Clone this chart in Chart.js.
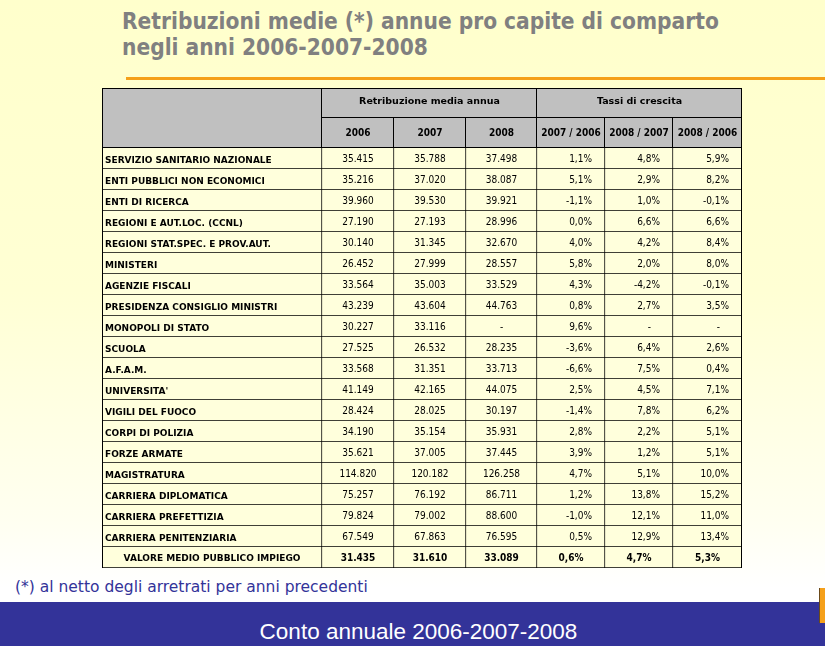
<!DOCTYPE html>
<html>
<head>
<meta charset="utf-8">
<script src="https://cdn.jsdelivr.net/npm/chart.js@4.4.1/dist/chart.umd.min.js"></script>
<style>
html,body{margin:0;padding:0;}
body{width:825px;height:646px;position:relative;overflow:hidden;
  background:linear-gradient(to bottom,#FFFFCC 0%,#FFFFD4 45%,#FFFFF0 80%,#FFFFFF 91%);
  font-family:"DejaVu Sans Condensed","DejaVu Sans",sans-serif;}
#title{position:absolute;left:122px;top:8px;color:#808080;font-weight:bold;font-size:22.5px;line-height:26px;white-space:nowrap;}
#rule{position:absolute;left:126px;top:77px;width:699px;height:3px;background:#F5A01A;}
#note{position:absolute;left:15px;top:578px;color:#333399;font-family:"DejaVu Sans",sans-serif;font-size:15.5px;white-space:nowrap;}
#band{position:absolute;left:0;top:602px;width:825px;height:44px;background:#333399;}
#bandText{position:absolute;left:6px;top:619px;width:825px;text-align:center;color:#FFFFFF;
  font-family:"Liberation Sans",Arial,sans-serif;font-size:22.5px;line-height:26px;}
#tab{position:absolute;left:820px;top:588px;width:5px;height:35px;background:#F5A01A;box-shadow:-1px 0 0 #6b4a1a;}
#c{position:absolute;left:0;top:0;}
</style>
</head>
<body>
<div id="title">Retribuzioni medie (*) annue pro capite di comparto<br>negli anni 2006-2007-2008</div>
<div id="rule"></div>
<div id="note">(*) al netto degli arretrati per anni precedenti</div>
<div id="band"></div>
<div id="tab"></div>
<div id="bandText">Conto annuale 2006-2007-2008</div>
<canvas id="c" width="825" height="646"></canvas>
<script>
// ---------- DATA ----------
const rowLabels = [
  "SERVIZIO SANITARIO NAZIONALE",
  "ENTI PUBBLICI NON ECONOMICI",
  "ENTI DI RICERCA",
  "REGIONI E AUT.LOC. (CCNL)",
  "REGIONI STAT.SPEC. E PROV.AUT.",
  "MINISTERI",
  "AGENZIE FISCALI",
  "PRESIDENZA CONSIGLIO MINISTRI",
  "MONOPOLI DI STATO",
  "SCUOLA",
  "A.F.A.M.",
  "UNIVERSITA'",
  "VIGILI DEL FUOCO",
  "CORPI DI POLIZIA",
  "FORZE ARMATE",
  "MAGISTRATURA",
  "CARRIERA DIPLOMATICA",
  "CARRIERA PREFETTIZIA",
  "CARRIERA PENITENZIARIA",
  "VALORE MEDIO PUBBLICO IMPIEGO"
];
const v2006 = [35415, 35216, 39960, 27190, 30140, 26452, 33564, 43239, 30227, 27525, 33568, 41149, 28424, 34190, 35621, 114820, 75257, 79824, 67549, 31435];
const v2007 = [35788, 37020, 39530, 27193, 31345, 27999, 35003, 43604, 33116, 26532, 31351, 42165, 28025, 35154, 37005, 120182, 76192, 79002, 67863, 31610];
const v2008 = [37498, 38087, 39921, 28996, 32670, 28557, 33529, 44763, null, 28235, 33713, 44075, 30197, 35931, 37445, 126258, 86711, 88600, 76595, 33089];
const g0706 = [1.1, 5.1, -1.1, 0.0, 4.0, 5.8, 4.3, 0.8, 9.6, -3.6, -6.6, 2.5, -1.4, 2.8, 3.9, 4.7, 1.2, -1.0, 0.5, 0.6];
const g0807 = [4.8, 2.9, 1.0, 6.6, 4.2, 2.0, -4.2, 2.7, null, 6.4, 7.5, 4.5, 7.8, 2.2, 1.2, 5.1, 13.8, 12.1, 12.9, 4.7];
const g0806 = [5.9, 8.2, -0.1, 6.6, 8.4, 8.0, -0.1, 3.5, null, 2.6, 0.4, 7.1, 6.2, 5.1, 5.1, 10.0, 15.2, 11.0, 13.4, 5.3];
const groupHeaders = ["Retribuzione media annua", "Tassi di crescita"];
const colHeaders = ["2006", "2007", "2008", "2007 / 2006", "2008 / 2007", "2008 / 2006"];

// ---------- LAYOUT / STYLE ----------
const colWidths = [220, 72, 72, 71, 68, 68, 69];   // column widths (px units of the x scale)
const groupSpans = [3, 3];                          // data columns under each group header
const headRowH = [30, 30];
const cellFill = '#FFFFDC';
const headFill = '#C0C0C0';
const FONT = '"DejaVu Sans Condensed","DejaVu Sans",sans-serif';
const FONT_W = '"DejaVu Sans",sans-serif';

const fmtNum = n => n == null ? '-' : String(n).replace(/\B(?=(\d{3})+(?!\d))/g, '.');
const fmtPct = p => p == null ? '-' : p.toFixed(1).replace('.', ',') + '%';
const columns = [rowLabels, v2006, v2007, v2008, g0706, g0807, g0806];
const lastRow = rowLabels.length - 1;

const datasets = colWidths.map((w, c) => ({
  label: c === 0 ? 'Comparto' : colHeaders[c - 1],
  data: rowLabels.map(() => w),
  backgroundColor: cellFill,
  borderColor: '#000000',
  borderWidth: {top: 0, left: 0, right: 1, bottom: 1},
  borderSkipped: false,
  barPercentage: 1,
  categoryPercentage: 1
}));

const tablePlugin = {
  id: 'tablePlugin',
  afterDatasetsDraw(chart) {
    const ctx = chart.ctx;
    const xs = chart.scales.x;
    const ca = chart.chartArea;
    const edges = [0];
    colWidths.forEach(w => edges.push(edges[edges.length - 1] + w));
    const ex = edges.map(e => Math.round(xs.getPixelForValue(e)));
    const top = ca.top - headRowH[0] - headRowH[1];
    const mid = ca.top - headRowH[1];
    ctx.save();
    ctx.fillStyle = headFill;
    ctx.fillRect(ex[0], top, ex[ex.length - 1] - ex[0], ca.top - top);
    ctx.strokeStyle = '#000';
    ctx.lineWidth = 1;
    ctx.beginPath();
    ctx.moveTo(ex[0] + 0.5, top + 0.5); ctx.lineTo(ex[7] - 0.5, top + 0.5);
    ctx.moveTo(ex[0] + 0.5, top); ctx.lineTo(ex[0] + 0.5, ca.bottom);
    ctx.moveTo(ex[7] - 0.5, top); ctx.lineTo(ex[7] - 0.5, ca.bottom);
    ctx.moveTo(ex[0], ca.top - 0.5); ctx.lineTo(ex[7], ca.top - 0.5);
    ctx.moveTo(ex[1], mid - 0.5); ctx.lineTo(ex[7], mid - 0.5);
    let gi = 1;
    const groupEdges = [1];
    groupSpans.forEach(s => { gi += s; groupEdges.push(gi); });
    for (let k = 1; k < 7; k++) {
      const full = groupEdges.includes(k);
      ctx.moveTo(ex[k] - 0.5, full ? top : mid);
      ctx.lineTo(ex[k] - 0.5, ca.top);
    }
    ctx.stroke();
    ctx.fillStyle = '#000';
    ctx.textAlign = 'center';
    ctx.textBaseline = 'middle';
    ctx.font = 'bold 9.5px ' + FONT_W;
    let start = 1;
    groupHeaders.forEach((g, k) => {
      const end = start + groupSpans[k];
      ctx.fillText(g, (ex[start] + ex[end]) / 2, top + headRowH[0] / 2 - 1);
      start = end;
    });
    ctx.font = 'bold 10px ' + FONT;
    colHeaders.forEach((h, k) => {
      ctx.fillText(h, (ex[k + 1] + ex[k + 2]) / 2, mid + headRowH[1] / 2);
    });
    for (let c = 0; c < 7; c++) {
      const meta = chart.getDatasetMeta(c);
      meta.data.forEach((bar, i) => {
        const p = bar.getProps(['x', 'base', 'y'], true);
        const left = Math.min(p.x, p.base), right = Math.max(p.x, p.base);
        const y = p.y + 1;
        const isTot = i === lastRow;
        const val = columns[c][i];
        if (c === 0) {
          ctx.font = 'bold 9px ' + FONT_W;
          if (isTot) { ctx.textAlign = 'center'; ctx.fillText(val, (left + right) / 2, y); }
          else { ctx.textAlign = 'left'; ctx.fillText(val, left + 3, y + 1); }
        } else if (c <= 3) {
          ctx.font = (isTot ? 'bold ' : '') + '10px ' + FONT;
          ctx.textAlign = 'center';
          ctx.fillText(fmtNum(val), (left + right) / 2, y);
        } else {
          ctx.font = (isTot ? 'bold ' : '') + '10px ' + FONT;
          if (isTot) { ctx.textAlign = 'center'; ctx.fillText(fmtPct(val), (left + right) / 2, y); }
          else if (val == null) { ctx.textAlign = 'right'; ctx.fillText('-', right - 22, y); }
          else { ctx.textAlign = 'right'; ctx.fillText(fmtPct(val), right - 13, y); }
        }
      });
    }
    ctx.restore();
  }
};

new Chart(document.getElementById('c'), {
  type: 'bar',
  data: { labels: rowLabels, datasets },
  options: {
    indexAxis: 'y',
    responsive: false,
    animation: false,
    layout: { padding: { left: 102, right: 83, top: 148, bottom: 78 } },
    scales: {
      x: { type: 'linear', stacked: true, display: false, min: 0, max: colWidths.reduce((a, b) => a + b, 0) },
      y: { type: 'category', stacked: true, display: false, offset: true }
    },
    plugins: { legend: { display: false }, tooltip: { enabled: false }, title: { display: false } }
  },
  plugins: [tablePlugin]
});
</script>
</body>
</html>
